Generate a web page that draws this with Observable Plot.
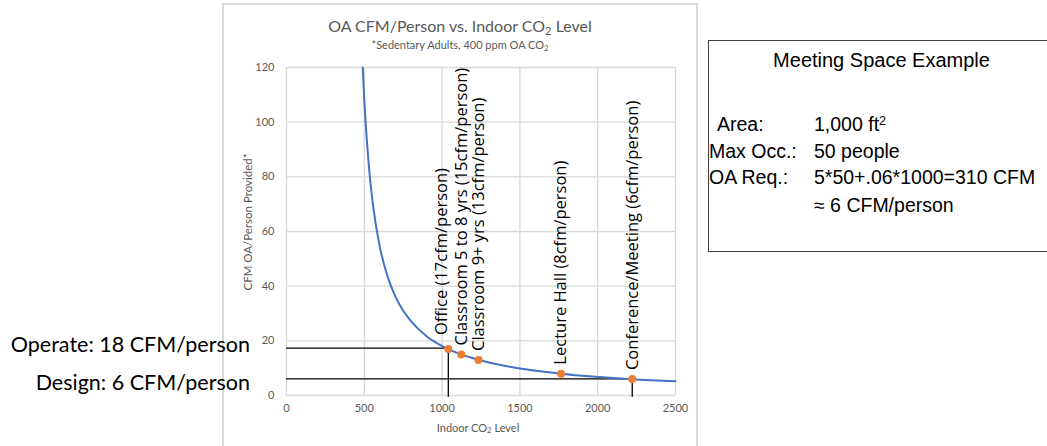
<!DOCTYPE html>
<html><head><meta charset="utf-8">
<script src="https://cdn.jsdelivr.net/npm/d3@7"></script>
<script src="https://cdn.jsdelivr.net/npm/@observablehq/plot@0.6"></script>
<style>
body{margin:0;background:#fff;}
#wrap{position:relative;width:1047px;height:446px;overflow:hidden;font-family:Lato,"Open Sans",sans-serif;}
.abs{position:absolute;white-space:nowrap;}
#frame{position:absolute;left:222px;top:3px;width:472px;height:450px;border:2px solid #d9d9d9;}
#chart{position:absolute;left:222px;top:0;}
#title{left:222px;width:476px;top:16px;text-align:center;font-size:16px;color:#595959;}
#subtitle{left:222px;width:476px;top:38px;text-align:center;font-size:11px;color:#595959;}
#ytitle{left:247px;top:222px;font-size:11.5px;color:#595959;transform:translate(-50%,-50%) rotate(-90deg);}
#xtitle{left:478px;top:427px;font-size:11px;color:#595959;transform:translate(-50%,-50%);}
.side{font-size:21.5px;color:#000;text-align:right;width:250px;left:0;transform:translateY(-50%);}
#box{position:absolute;left:708px;top:40px;width:345px;height:210px;border:1.5px solid #404040;font-family:"Liberation Sans",Arial,sans-serif;font-size:19.5px;color:#000;}
#box .abs{transform:translateY(-50%);}
sub{font-size:70%;vertical-align:-0.25em;line-height:0;}
sup{font-size:65%;vertical-align:0.45em;line-height:0;}
</style></head><body>
<div id="wrap">
<div id="frame"></div>
<div id="chart"></div>
<div class="abs" id="title">OA CFM/Person vs. Indoor CO<sub>2</sub> Level</div>
<div class="abs" id="subtitle">*Sedentary Adults, 400 ppm OA CO<sub>2</sub></div>
<div class="abs" id="ytitle">CFM OA/Person Provided*</div>
<div class="abs" id="xtitle">Indoor CO<sub>2</sub> Level</div>
<div class="abs side" id="op" style="top:344px"></div>
<div class="abs side" id="de" style="top:382px"></div>
<div id="box">
  <div class="abs" id="boxtitle" style="left:0;width:100%;text-align:center;top:19px;font-size:20px"></div>
  <div class="abs" style="left:8px;top:83px" id="k0"></div><div class="abs" style="left:105px;top:83px" id="v0"></div>
  <div class="abs" style="left:0px;top:110px" id="k1"></div><div class="abs" style="left:105px;top:110px" id="v1"></div>
  <div class="abs" style="left:0px;top:136px" id="k2"></div><div class="abs" style="left:105px;top:136px" id="v2"></div>
  <div class="abs" style="left:105px;top:164px" id="v3"></div>
</div>
</div>
<script>
// Blue curve: indoor CO2 (ppm) vs OA CFM/person
const curveCO2 = [490, 500, 520, 540, 560, 600, 650, 700, 750, 800, 900, 1000, 1100, 1200, 1300, 1400, 1500, 1700, 1900, 2100, 2300, 2500];
const curveCFM = [120, 108, 90.6, 77.6, 67.9, 54.3, 43.5, 36.2, 31, 27.2, 21.7, 18.1, 15.5, 13.6, 12.1, 10.9, 9.9, 8.4, 7.2, 6.4, 5.7, 5.2];
// Space types (orange points)
const spaceNames = ["Office (17cfm/person)", "Classroom 5 to 8 yrs (15cfm/person)", "Classroom 9+ yrs (13cfm/person)", "Lecture Hall (8cfm/person)", "Conference/Meeting (6cfm/person)"];
const spaceCO2 = [1040, 1123, 1234, 1765, 2222];
const spaceCFM = [17, 15, 13, 8, 6];
// Reference (operate / design) lines
const refNames = ["Operate: 18 CFM/person", "Design: 6 CFM/person"];
const refCO2 = [1040, 2222];
const refCFM = [17.3, 6.1];
// Axis ticks
const xTicks = [0, 500, 1000, 1500, 2000, 2500];
const yTicks = [0, 20, 40, 60, 80, 100, 120];
// Side box
const boxTitle = "Meeting Space Example";
const boxKeys = ["Area:", "Max Occ.:", "OA Req.:"];
const boxVals = ["1,000 ft<sup>2</sup>", "50 people", "5*50+.06*1000=310 CFM", "≈ 6 CFM/person"];

const curve = curveCO2.map((x, i) => ({x, y: curveCFM[i]}));
const spaces = spaceNames.map((name, i) => ({name, x: spaceCO2[i], y: spaceCFM[i]}));
const refs = refNames.map((name, i) => ({name, x: refCO2[i], y: refCFM[i]}));
const labelOpts = {x: "x", y: "y", text: "name", rotate: -90, textAnchor: "start", lineAnchor: "middle", fontSize: 16.5, fontFamily: "'Open Sans', sans-serif", fill: "#000"};

const chart = Plot.plot({
  width: 476, height: 446,
  marginLeft: 64, marginRight: 23, marginTop: 67, marginBottom: 51,
  style: {fontFamily: "Lato, 'Open Sans', sans-serif", fontSize: "11px", color: "#595959", background: "transparent"},
  x: {domain: [0, 2500]},
  y: {domain: [0, 120]},
  marks: [
    Plot.gridX(xTicks, {stroke: "#d9d9d9", strokeOpacity: 1, strokeWidth: 1.3}),
    Plot.gridY(yTicks, {stroke: "#d9d9d9", strokeOpacity: 1, strokeWidth: 1.3}),
    Plot.axisX(xTicks, {tickSize: 0, tickPadding: 9, label: null, fill: "#595959", tickFormat: d => String(d)}),
    Plot.axisY(yTicks, {tickSize: 0, tickPadding: 12, label: null, fill: "#595959", tickFormat: d => String(d)}),
    Plot.ruleY(refs, {y: "y", x1: 0, x2: "x", stroke: "#000", strokeWidth: 1.3}),
    Plot.ruleX(refs, {x: "x", y1: "y", y2: -0.6, stroke: "#000", strokeWidth: 1.3}),
    Plot.line(curve, {x: "x", y: "y", stroke: "#4472C4", strokeWidth: 2, curve: "monotone-x"}),
    Plot.dot(spaces, {x: "x", y: "y", r: 4, fill: "#ED7D31", stroke: "none"}),
    Plot.text(spaces.slice(0, 1), {...labelOpts, dx: -7, dy: -14}),
    Plot.text(spaces.slice(1), {...labelOpts, dy: -9})
  ]
});
document.getElementById("chart").appendChild(chart);
document.getElementById("op").textContent = refNames[0];
document.getElementById("de").textContent = refNames[1];
document.getElementById("boxtitle").textContent = boxTitle;
boxKeys.forEach((k, i) => document.getElementById("k" + i).textContent = k);
boxVals.forEach((v, i) => document.getElementById("v" + i).innerHTML = v);
</script>
</body></html>
